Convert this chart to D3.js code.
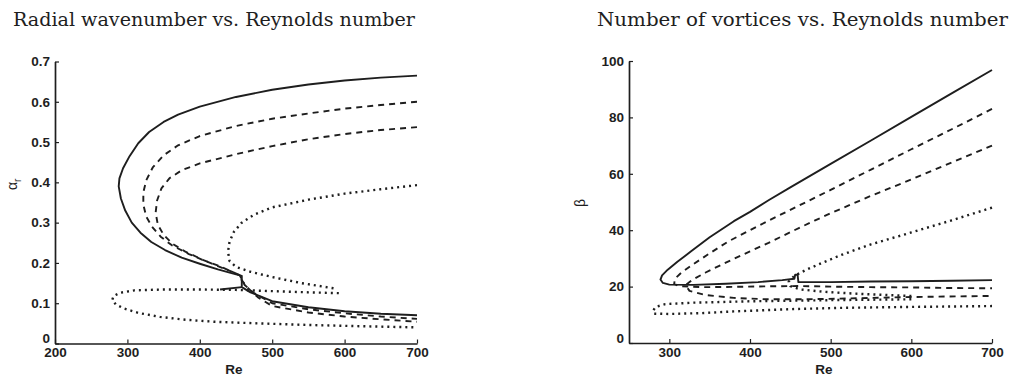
<!DOCTYPE html>
<html><head><meta charset="utf-8">
<script src="https://cdn.jsdelivr.net/npm/d3@7"></script>
<style>body{margin:0;background:#fff;} svg{display:block;}</style>
</head><body><svg id="c" width="1014" height="376"></svg>
<script>
// ---------- data ----------
const leftTitle = "Radial wavenumber vs. Reynolds number";
const rightTitle = "Number of vortices vs. Reynolds number";
const leftXTicks = [200, 300, 400, 500, 600, 700];
const leftYTicks = [0, 0.1, 0.2, 0.3, 0.4, 0.5, 0.6, 0.7];
const rightXTicks = [300, 400, 500, 600, 700];
const rightYTicks = [0, 20, 40, 60, 80, 100];

// alpha_r vs Re  ([Re, alpha_r])
const alphaSolid = [[700,0.665],[650,0.66],[600,0.653],[550,0.643],[500,0.63],[450,0.612],[400,0.588],[370,0.568],[350,0.55],[330,0.525],[315,0.497],[303,0.465],[294,0.435],[289,0.41],[288,0.39],[291,0.36],[297,0.33],[306,0.30],[318,0.275],[333,0.252],[352,0.232],[375,0.213],[400,0.198],[425,0.184],[445,0.174],[458,0.168],[458,0.14],[470,0.127],[500,0.105],[550,0.09],[600,0.08],[650,0.074],[700,0.07]];
const alphaSolidLink = [[428,0.134],[458,0.14]];
const alphaDashA = [[700,0.6],[650,0.592],[600,0.583],[550,0.571],[500,0.558],[450,0.54],[400,0.515],[370,0.492],[350,0.467],[335,0.437],[326,0.405],[322,0.375],[322,0.345],[326,0.315],[334,0.29],[346,0.265],[362,0.243],[385,0.222],[410,0.203],[435,0.185],[455,0.17],[462,0.145],[475,0.125],[500,0.1],[550,0.085],[600,0.075],[650,0.067],[700,0.061]];
const alphaDashB = [[700,0.537],[650,0.53],[600,0.52],[550,0.507],[500,0.49],[450,0.47],[400,0.447],[375,0.43],[358,0.41],[347,0.385],[341,0.355],[339,0.325],[342,0.295],[350,0.27],[362,0.248],[380,0.228],[405,0.207],[430,0.19],[452,0.172],[465,0.14],[480,0.115],[500,0.093],[550,0.077],[600,0.067],[650,0.06],[700,0.054]];
const alphaDotA = [[700,0.393],[650,0.383],[600,0.372],[550,0.357],[500,0.338],[475,0.32],[458,0.3],[447,0.277],[441,0.252],[439,0.228],[441,0.205],[450,0.19],[470,0.178],[500,0.165],[540,0.15],[585,0.137]];
const alphaDotB = [[592,0.125],[550,0.127],[500,0.13],[450,0.133],[400,0.134],[350,0.134],[310,0.132],[290,0.126],[281,0.118],[279,0.108],[284,0.097],[295,0.087],[315,0.076],[345,0.066],[380,0.059],[420,0.054],[480,0.05],[550,0.046],[620,0.043],[700,0.04]];

// beta vs Re  ([Re, beta])
const betaSolid = [[700,96.8],[650,88.5],[600,80.2],[550,71.8],[500,63.5],[450,55.2],[423,50.6],[400,46.5],[380,43.2],[350,37.5],[327,32.5],[310,28.8],[298,26],[291,24],[289,22.5],[292,21.3],[300,20.7],[330,20.6],[370,21],[410,21.6],[440,22.3],[455,22.8],[456,24.2],[459,24.2],[460,21.6],[500,21.6],[550,21.8],[600,21.9],[650,22.1],[700,22.3]];
const betaDashA = [[700,83],[650,75.8],[600,68.7],[550,61.5],[500,54.3],[450,47.2],[423,43.4],[400,40],[373,36],[350,31.8],[330,28],[315,25],[307,22.8],[306,21],[312,20.2],[340,19.8],[380,19.9],[420,20.1],[460,20.2],[500,20],[550,19.8],[600,19.7],[650,19.5],[700,19.4]];
const betaDashB = [[700,70],[650,64],[600,58],[550,52.2],[500,46],[480,43.4],[450,39.3],[423,35.5],[400,32.5],[370,28.5],[345,25],[328,22.3],[320,20.5],[325,18.5],[345,17],[380,16],[420,15.5],[470,15.5],[520,15.8],[600,16.3],[700,16.7]];
const betaDotA = [[700,48],[650,43.5],[600,39.2],[550,35],[513,31.2],[490,28.5],[470,26],[455,23.8],[448,21.8],[450,20.2],[462,19],[490,18.2],[530,17.5],[570,17],[605,16.6]];
const betaDotB = [[600,15.5],[500,15.2],[400,14.8],[330,14.3],[295,13.8],[283,12.8],[280,11.5],[281,10.4],[300,10.3],[340,10.6],[380,11.2],[450,12],[520,12.5],[600,12.8],[700,13.1]];

// ---------- drawing ----------
const svg = d3.select("#c");
svg.append("rect").attr("width",1014).attr("height",376).attr("fill","#fff");
const INK = "#1e1e1e";
const styles = {
  solid: {w:1.9, dash:null},
  dash: {w:1.9, dash:"6,5"},
  dot: {w:2.4, dash:"2,4"}
};

function panel(cfg){
  const g = svg.append("g");
  const x = d3.scaleLinear().domain(cfg.xDomain).range([cfg.x0, cfg.x1]);
  const y = d3.scaleLinear().domain(cfg.yDomain).range([cfg.y0, cfg.y1]);
  const xAxis = d3.axisBottom(x).tickValues(cfg.xTicks).tickSizeInner(-4).tickSizeOuter(0).tickPadding(4);
  const yAxis = d3.axisLeft(y).tickValues(cfg.yTicks).tickSizeInner(-4).tickSizeOuter(0).tickPadding(5)
      .tickFormat(cfg.yFmt);
  const gx = g.append("g").attr("transform",`translate(0,${cfg.y0})`).call(xAxis);
  const gy = g.append("g").attr("transform",`translate(${cfg.x0},0)`).call(yAxis);
  [gx, gy].forEach(a => {
    a.selectAll("path.domain").attr("stroke",INK).attr("stroke-width",1.7);
    a.selectAll("line").attr("stroke",INK).attr("stroke-width",1.2);
    a.selectAll("text").attr("fill",INK).attr("font-family","'Liberation Sans', Arial, sans-serif")
      .attr("font-weight","bold").attr("font-size",13.5);
  });
  // lift the "0" label of the y axis slightly, as in the reference
  gy.selectAll(".tick").filter(d => d === 0).select("text").attr("dy","-0.05em");
  const line = d3.line().x(d => x(d[0])).y(d => y(d[1]));
  cfg.series.forEach(s => {
    const st = styles[s.style];
    g.append("path").datum(s.data).attr("d", line).attr("fill","none")
      .attr("stroke",INK).attr("stroke-width",st.w)
      .attr("stroke-dasharray",st.dash).attr("stroke-linejoin","round");
  });
  // title
  g.append("text").attr("x",cfg.titleX).attr("y",26).text(cfg.title)
    .attr("font-family","'DejaVu Serif', 'Liberation Serif', serif").attr("font-size",18)
    .attr("textLength",cfg.titleW).attr("lengthAdjust","spacingAndGlyphs").attr("fill",INK);
  // x label
  g.append("text").attr("x",cfg.reX).attr("y",374).attr("text-anchor","middle").text("Re")
    .attr("font-family","'Liberation Sans', Arial, sans-serif").attr("font-weight","bold")
    .attr("font-size",13.5).attr("fill",INK);
  return {g, x, y};
}

const L = panel({
  xDomain:[200,700], yDomain:[0,0.7], x0:55, x1:417, y0:343.5, y1:61.5,
  xTicks:leftXTicks, yTicks:leftYTicks, yFmt: d => d === 0 ? "0" : d3.format(".1f")(d),
  title:leftTitle, titleX:13, titleW:402, reX:234,
  series:[
    {data:alphaSolid, style:"solid"},{data:alphaSolidLink, style:"solid"},
    {data:alphaDashA, style:"dash"},{data:alphaDashB, style:"dash"},
    {data:alphaDotA, style:"dot"},{data:alphaDotB, style:"dot"}
  ]
});
const R = panel({
  xDomain:[250,700], yDomain:[0,100], x0:629, x1:992, y0:343, y1:61,
  xTicks:rightXTicks, yTicks:rightYTicks, yFmt: d3.format("d"),
  title:rightTitle, titleX:597, titleW:411, reX:824,
  series:[
    {data:betaSolid, style:"solid"},
    {data:betaDashA, style:"dash"},{data:betaDashB, style:"dash"},
    {data:betaDotA, style:"dot"},{data:betaDotB, style:"dot"}
  ]
});

// y labels
const yl = svg.append("text").attr("transform","translate(17,190) rotate(-90)")
  .attr("font-family","'Liberation Sans', Arial, sans-serif").attr("font-size",14).attr("fill",INK);
yl.append("tspan").text("α");
yl.append("tspan").attr("dy",4).attr("font-size",10).text("r");
svg.append("text").attr("transform","translate(585,203) rotate(-90)")
  .attr("text-anchor","middle")
  .attr("font-family","'Liberation Sans', Arial, sans-serif").attr("font-size",14).attr("fill",INK)
  .text("β");
</script></body></html>
